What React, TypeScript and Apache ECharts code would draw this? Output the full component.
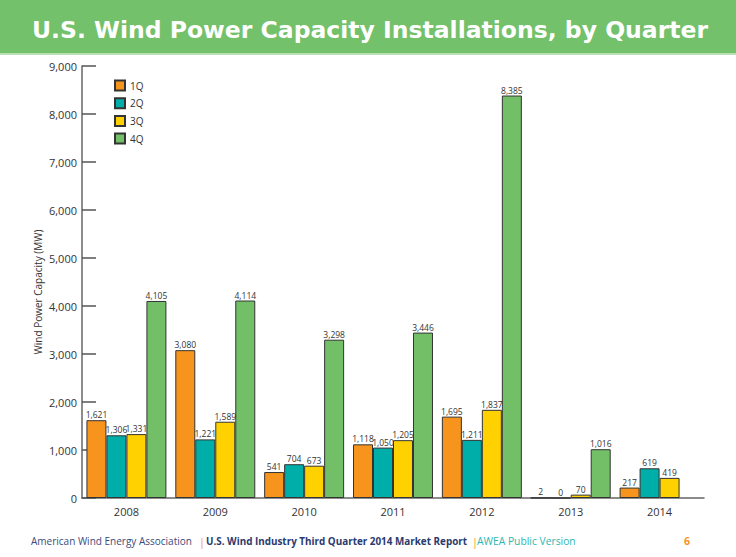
import React, { useEffect, useRef } from "react";
import * as echarts from "echarts";

const years = ["2008", "2009", "2010", "2011", "2012", "2013", "2014"];
const q1 = [1621, 3080, 541, 1118, 1695, 2, 217];
const q2 = [1306, 1221, 704, 1050, 1211, 0, 619];
const q3 = [1331, 1589, 673, 1205, 1837, 70, 419];
const q4: (number | null)[] = [4105, 4114, 3298, 3446, 8385, 1016, null];
const seriesNames = ["1Q", "2Q", "3Q", "4Q"];
const colors = ["#F7941E", "#00AEA9", "#FFD100", "#72BF67"];

const fmt = (v: number) => v.toLocaleString("en-US");

export default function App() {
  const ref = useRef<HTMLDivElement>(null);
  useEffect(() => {
    const chart = echarts.init(ref.current!, null, { renderer: "svg" });
    const font = "'Open Sans', sans-serif";
    const data = [q1, q2, q3, q4];
    chart.setOption({
      animation: false,
      backgroundColor: "#ffffff",
      textStyle: { fontFamily: font },
      grid: { left: 82, right: 32, top: 66, bottom: 59, containLabel: false },
      legend: {
        orient: "vertical",
        left: 109,
        top: 74.5,
        itemWidth: 10,
        itemHeight: 10,
        itemGap: 5.7,
        icon: "rect",
        textStyle: { fontSize: 10, color: "#333", fontFamily: font },
        data: seriesNames,
      },
      xAxis: {
        type: "category",
        data: years,
        axisLine: { lineStyle: { color: "#666", width: 1.5 } },
        axisTick: { inside: true, length: 11, lineStyle: { color: "#888", width: 1.5 } },
        axisLabel: { fontSize: 11, color: "#333", margin: 8, fontFamily: font },
      },
      yAxis: {
        type: "value",
        min: 0,
        max: 9000,
        interval: 1000,
        axisLine: { show: true, lineStyle: { color: "#666", width: 1.5 } },
        axisTick: { show: true, inside: true, length: 14, lineStyle: { color: "#555", width: 1.5 } },
        splitLine: { show: false },
        axisLabel: {
          fontSize: 11,
          color: "#333",
          margin: 5,
          fontFamily: font,
          formatter: (v: number) => fmt(v),
        },
      },
      series: seriesNames.map((name, i) => ({
        name,
        type: "bar",
        data: data[i],
        barGap: "0%",
        barCategoryGap: "10%",
        itemStyle: { color: colors[i], borderColor: "#333", borderWidth: 1 },
        label: {
          show: true,
          position: "top",
          distance: 1,
          fontSize: 8.5,
          color: "#333",
          fontFamily: font,
          formatter: (p: any) => fmt(p.value),
        },
      })),
      graphic: [
        { type: "rect", left: 0, top: 0, shape: { width: 736, height: 53 }, style: { fill: "#73C16A" } },
        { type: "rect", left: 0, top: 53, shape: { width: 736, height: 2 }, style: { fill: "#B9E0B2" } },
        {
          type: "text",
          x: 32,
          y: 30,
          style: {
            text: "U.S. Wind Power Capacity Installations, by Quarter",
            fill: "#ffffff",
            font: `bold 23.5px 'DejaVu Sans', sans-serif`,
            textVerticalAlign: "middle",
          },
        },
        {
          type: "text",
          x: 38,
          y: 292,
          rotation: Math.PI / 2,
          style: {
            text: "Wind Power Capacity (MW)",
            fill: "#333",
            font: `10px ${font}`,
            textAlign: "center",
            textVerticalAlign: "middle",
          },
        },
        { type: "text", x: 31, y: 541, style: { text: "American Wind Energy Association", fill: "#3B4A7E", font: `10px ${font}`, textVerticalAlign: "middle" } },
        { type: "text", x: 199, y: 541, style: { text: "|", fill: "#F7941E", font: `11px ${font}`, textVerticalAlign: "middle" } },
        { type: "text", x: 206, y: 541, style: { text: "U.S. Wind Industry Third Quarter 2014 Market Report", fill: "#2B3A6E", font: `bold 9.9px ${font}`, textVerticalAlign: "middle" } },
        { type: "text", x: 472, y: 541, style: { text: "|", fill: "#F7941E", font: `11px ${font}`, textVerticalAlign: "middle" } },
        { type: "text", x: 477, y: 541, style: { text: "AWEA Public Version", fill: "#2DB7B0", font: `10.3px ${font}`, textVerticalAlign: "middle" } },
        { type: "text", x: 684, y: 541, style: { text: "6", fill: "#F7941E", font: `bold 10.5px ${font}`, textVerticalAlign: "middle" } },
      ],
    });
    return () => chart.dispose();
  }, []);
  return (
    <div
      ref={ref}
      style={{ position: "absolute", left: 0, top: 0, width: 736, height: 557 }}
    />
  );
}
